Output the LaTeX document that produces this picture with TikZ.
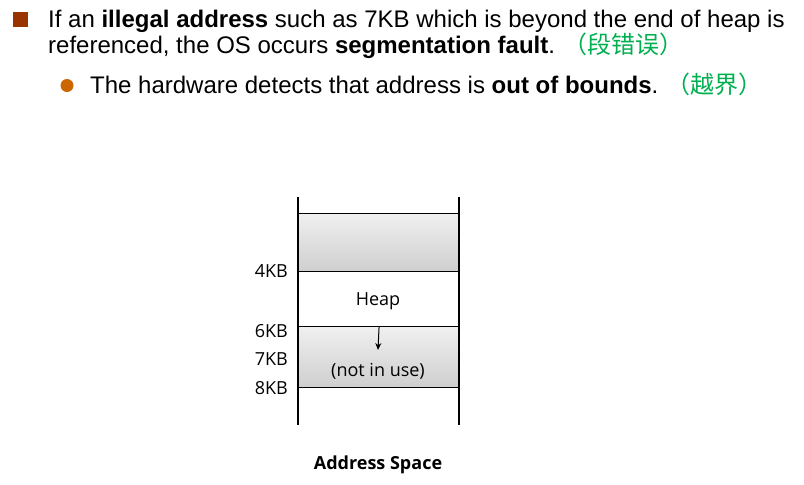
\documentclass[tikz,border=0pt]{standalone}
\usepackage{fontspec}
\setmainfont{Liberation Sans}
\newfontfamily\diag{Open Sans}
\newfontfamily\cjk{Noto Sans CJK SC}
\usetikzlibrary{arrows.meta}
\definecolor{bulletsq}{RGB}{153,51,0}
\definecolor{bulletci}{RGB}{204,102,0}
\definecolor{cjkgreen}{RGB}{0,176,80}
\tikzset{
  bodytext/.style={anchor=base west, inner sep=0pt, font=\fontsize{24}{28}\selectfont},
  sqbullet/.style={fill=bulletsq, minimum size=15pt, inner sep=0pt},
  cibullet/.style={circle, fill=bulletci, minimum size=13pt, inner sep=0pt},
  graybox/.style={draw=black, line width=1.1pt, top color=gray!12, bottom color=gray!38, minimum width=161pt, inner sep=0pt, anchor=north west},
  whitebox/.style={draw=black, line width=1.1pt, fill=white, minimum width=161pt, inner sep=0pt, anchor=north west},
  diagtext/.style={inner sep=0pt, font=\diag\fontsize{18}{21}\selectfont},
  kblabel/.style={diagtext, anchor=east},
  wall/.style={line width=1.1pt},
}
\begin{document}
\begin{tikzpicture}[x=1pt,y=-1pt]
\path[use as bounding box, fill=white] (0,0) rectangle (804,485);
% text
\node[sqbullet] (b1) at (20.5,19.5) {};
\node[bodytext] (t1) at (48,27) {If an \textbf{illegal address} such as 7KB which is beyond the end of heap is};
\node[bodytext] (t2) at (48,53) {referenced, the OS occurs \textbf{segmentation fault}.\hspace{8pt}\textcolor{cjkgreen}{\cjk （段错误）}};
\node[cibullet] (b2) at (67,85.5) {};
\node[bodytext] (t3) at (90,93) {The hardware detects that address is \textbf{out of bounds}.\hspace{8pt}\textcolor{cjkgreen}{\cjk （越界）}};
% diagram
\node[graybox, minimum height=58pt] (top) at (298,213) {};
\node[whitebox, minimum height=55pt] (heap) at (298,271) {};
\node[graybox, minimum height=61pt] (free) at (298,326) {};
\coordinate (lt) at (298,197);
\coordinate (lb) at (298,425);
\coordinate (rt) at (459,197);
\coordinate (rb) at (459,425);
\draw[wall] (lt) -- (lb);
\draw[wall] (rt) -- (rb);
\node[diagtext] (heaplbl) at (378,301) {Heap};
\node[diagtext] (nilbl) at (378,371) {(not in use)};
\coordinate (arrend) at (378,350);
\draw[line width=1pt, -{Stealth[length=7pt,width=6pt]}] (heap.south) -- (arrend);
\node[kblabel] (k4) at (288,271.5) {4KB};
\node[kblabel] (k6) at (288,331) {6KB};
\node[kblabel] (k7) at (288,359.5) {7KB};
\node[kblabel] (k8) at (288,388) {8KB};
\node[diagtext, font=\diag\bfseries\fontsize{18}{21}\selectfont] (cap) at (378,465) {Address Space};
\end{tikzpicture}
\end{document}
